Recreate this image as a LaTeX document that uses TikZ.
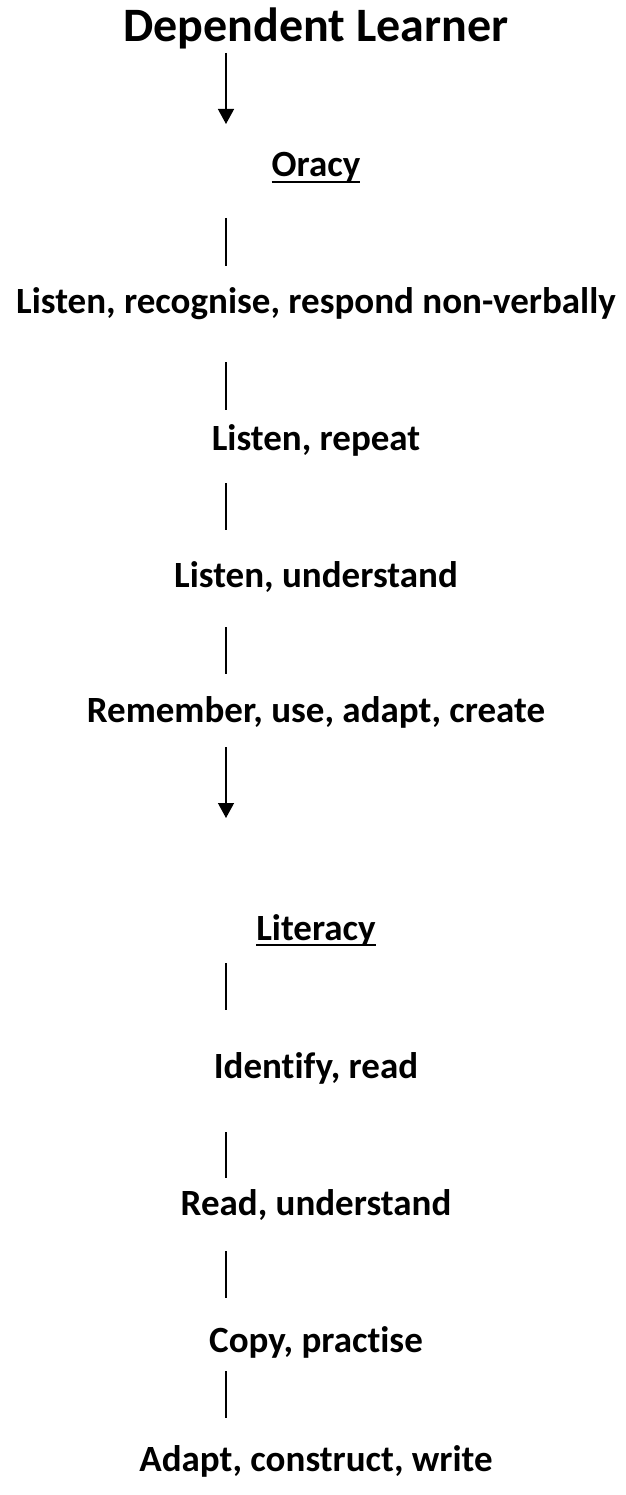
\documentclass[tikz,border=0pt]{standalone}
\usepackage{fontspec}
\setmainfont{Carlito}[Ligatures=CommonOff]
\usetikzlibrary{arrows.meta}

\newcommand{\ulword}[1]{\setbox0=\hbox{#1}\rlap{\rule[-6pt]{\wd0}{1.8pt}}\box0}

\tikzset{%
  headline/.style={font=\fontsize{48}{56}\selectfont\bfseries, anchor=base, inner sep=0pt},
  stage/.style={font=\fontsize{37}{44}\selectfont\bfseries, anchor=base, inner sep=0pt},
  link/.style={draw, line width=1.3pt, color=black},
  arrowline/.style={link, -{Triangle[width=16pt,length=15pt]}},
}

\begin{document}
\begin{tikzpicture}[x=1pt, y=-1pt]
\useasboundingbox (0,0) rectangle (625,1495);

% texts
\node[headline] (dl) at (316,42) {Dependent Learner};
\node[stage] (oracy) at (316,177) {\ulword{Oracy}};
\node[stage] (o1) at (316,313) {Listen, recognise, respond non-verbally};
\node[stage] (o2) at (316,450) {Listen, repeat};
\node[stage] (o3) at (316,587) {Listen, understand};
\node[stage] (o4) at (316,722) {Remember, use, adapt, create};
\node[stage] (literacy) at (316,940) {\ulword{Literacy}};
\node[stage] (l1) at (316,1078) {Identify, read};
\node[stage] (l2) at (316,1215) {Read, understand};
\node[stage] (l3) at (316,1352) {Copy, practise};
\node[stage] (l4) at (316,1471) {Adapt, construct, write};

% spine
\coordinate (a1) at (226,53);   \coordinate (a2) at (226,124);
\coordinate (b1) at (226,218);  \coordinate (b2) at (226,266);
\coordinate (c1) at (226,362);  \coordinate (c2) at (226,410);
\coordinate (d1) at (226,483);  \coordinate (d2) at (226,530);
\coordinate (e1) at (226,627);  \coordinate (e2) at (226,674);
\coordinate (f1) at (226,747);  \coordinate (f2) at (226,818);
\coordinate (g1) at (226,963);  \coordinate (g2) at (226,1010);
\coordinate (h1) at (226,1132); \coordinate (h2) at (226,1178);
\coordinate (i1) at (226,1251); \coordinate (i2) at (226,1298);
\coordinate (j1) at (226,1371); \coordinate (j2) at (226,1418);

\draw[arrowline] (a1) -- (a2);
\draw[arrowline] (f1) -- (f2);
\foreach \s in {b,c,d,e,g,h,i,j}
  \draw[link] (\s1) -- (\s2);
\end{tikzpicture}
\end{document}
